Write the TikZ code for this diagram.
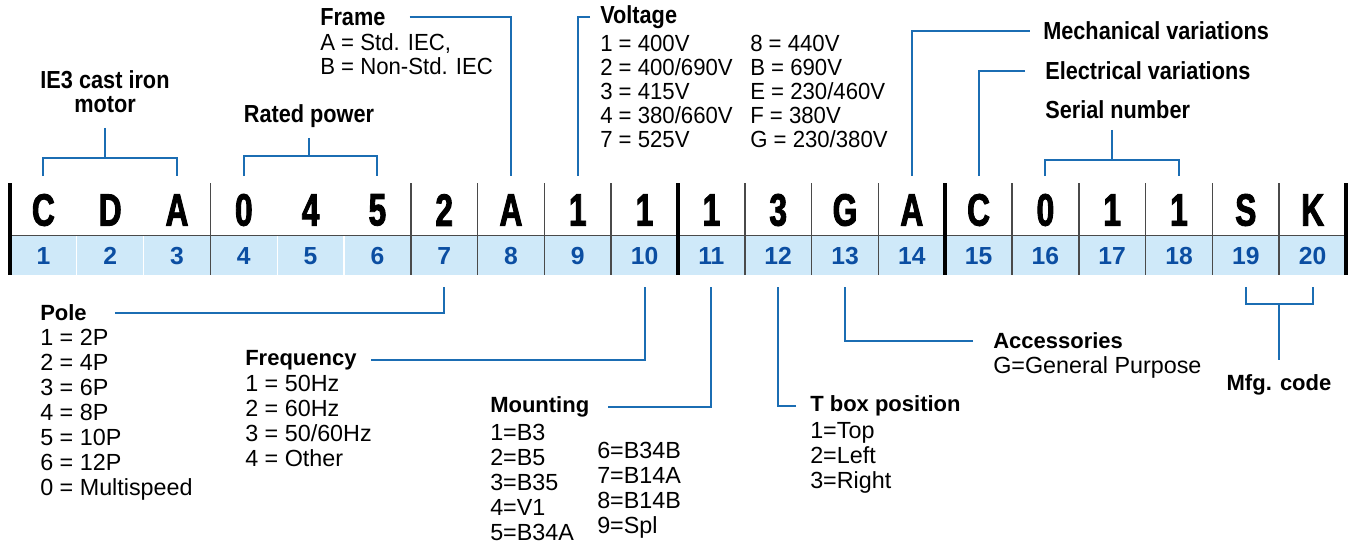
\documentclass[tikz,border=0pt]{standalone}
\usepackage{fontspec}
\setmainfont{Liberation Sans}
\newfontfamily\condfont[FakeStretch=0.7, FakeBold=2]{Liberation Sans}
\newfontfamily\narrowfont[FakeStretch=0.88]{Liberation Sans}
\newfontfamily\bodyfont[FakeStretch=0.95]{Liberation Sans}
\usepackage{xcolor}
\usetikzlibrary{positioning}
\definecolor{linkblue}{HTML}{1B6DB3}
\definecolor{cellblue}{HTML}{CFE9F9}
\definecolor{numblue}{HTML}{0B4EA2}
\definecolor{divgray}{HTML}{4A4A4A}

\begin{document}
\begin{tikzpicture}[x=0.75pt, y=-0.75pt,
  letter/.style={font=\condfont\bfseries\fontsize{34}{34}\selectfont, inner sep=0pt},
  num/.style={font=\bfseries\fontsize{18.5}{18}\selectfont, text=numblue, inner sep=0pt},
  head/.style={font=\bfseries\fontsize{16.5}{18}\selectfont, inner sep=0pt, anchor=west},
  tophead/.style={font=\narrowfont\bfseries\fontsize{18.5}{18}\selectfont, inner sep=0pt},
  body/.style={font=\fontsize{17.5}{18.75}\selectfont, inner sep=0pt, anchor=north west, align=left},
  topbody/.style={font=\bodyfont\fontsize{17.5}{17.9}\selectfont, inner sep=0pt, anchor=north west, align=left},
  conn/.style={draw=linkblue, line width=1.5pt},
  thinbar/.style={draw=divgray, line width=1.2pt},
  thickbar/.style={draw=black, line width=3pt}
]
\useasboundingbox (0,0) rectangle (1354,547);

\fill[cellblue] (10,236) rectangle (1346,275);
\draw[divgray, line width=1pt] (10,235.5) -- (1346,235.5);
\foreach \k in {1,2,4,5}
  \draw[white, line width=0.8pt] ({10+66.8*\k},236) -- ({10+66.8*\k},275);
\foreach \k in {3,6,7,8,9,11,12,13,15,16,17,18,19}
  \draw[thinbar] ({10+66.8*\k},183) -- ({10+66.8*\k},275);
\foreach \k in {0,10,14,20}
  \draw[thickbar] ({10+66.8*\k},183) -- ({10+66.8*\k},275);

\foreach \ch [count=\i] in {C,D,A,0,4,5,2,A,1,1,1,3,G,A,C,0,1,1,S,K} {
  \node[letter] (l\i) at ({10+66.8*(\i-0.5)},210) {\ch};
  \node[num] (n\i) at ({10+66.8*(\i-0.5)},256) {\i};
  \coordinate (t\i) at ({10+66.8*(\i-0.5)},176);
  \coordinate (b\i) at ({10+66.8*(\i-0.5)},287);
}

\node[tophead, align=center] (ie3) at (105,92) {IE3 cast iron\\motor};
\node[tophead] (rated) at (309,116) {Rated power};
\node[tophead, anchor=west] (frame) at (320,17) {Frame};
\node[topbody] (framebody) at (320,33) {A = Std. IEC,\\B = Non-Std. IEC};
\node[tophead, anchor=west] (volt) at (600,17) {Voltage};
\node[topbody] (voltA) at (600,35) {1 = 400V\\2 = 400/690V\\3 = 415V\\4 = 380/660V\\7 = 525V};
\node[topbody] (voltB) at (750,35) {8 = 440V\\B = 690V\\E = 230/460V\\F = 380V\\G = 230/380V};
\node[tophead, anchor=west] (mech) at (1043,31) {Mechanical variations};
\node[tophead, anchor=west] (elec) at (1045,71) {Electrical variations};
\node[tophead, anchor=west] (serial) at (1045,110) {Serial number};

\node[head] (pole) at (40,313) {Pole};
\node[body] (polebody) at (40,329) {1 = 2P\\2 = 4P\\3 = 6P\\4 = 8P\\5 = 10P\\6 = 12P\\0 = Multispeed};
\node[head] (freq) at (245,360) {Frequency};
\node[body] (freqbody) at (245,375) {1 = 50Hz\\2 = 60Hz\\3 = 50/60Hz\\4 = Other};
\node[head] (mount) at (490,407) {Mounting};
\node[body] (mountA) at (490,424) {1=B3\\2=B5\\3=B35\\4=V1\\5=B34A};
\node[body] (mountB) at (597,442) {6=B34B\\7=B14A\\8=B14B\\9=Spl};
\node[head] (tbox) at (810,406) {T box position};
\node[body] (tboxbody) at (810,422) {1=Top\\2=Left\\3=Right};
\node[head] (acc) at (993,341) {Accessories};
\node[body] (accbody) at (993,356) {G=General Purpose};
\node[head, anchor=center] (mfg) at (1279,385) {Mfg. code};

\coordinate (ie3bar) at (105,158);
\coordinate (ratedbar) at (309,156);
\coordinate (serialbar) at (1112,160);
\coordinate (mfgbar) at (1279,304);

\draw[conn, shorten <=11pt] (ie3.south) -- (ie3bar);
\draw[conn] (t1) -- (t1 |- ie3bar) -- (t3 |- ie3bar) -- (t3);
\draw[conn, shorten <=7.5pt] (rated.south) -- (ratedbar);
\draw[conn] (t4) -- (t4 |- ratedbar) -- (t6 |- ratedbar) -- (t6);
\draw[conn, shorten <=18pt] (frame.east) -| (t8);
\draw[conn, shorten <=7.5pt] (volt.west) -| (t9);
\draw[conn, shorten <=10pt] (mech.west) -| (t14);
\draw[conn, shorten <=15pt] (elec.west) -| (t15);
\draw[conn, shorten <=8pt] (serialbar |- serial.south) -- (serialbar);
\draw[conn] (t16) -- (t16 |- serialbar) -- (t18 |- serialbar) -- (t18);

\draw[conn, shorten <=21pt] (pole.east) -| (b7);
\draw[conn, shorten <=11pt] (freq.east) -| (b10);
\draw[conn, shorten <=14pt] (mount.east) -| (b11);
\draw[conn, shorten <=10.5pt] (tbox.west) -| (b12);
\draw[conn, shorten <=15pt] (acc.west) -| (b13);
\draw[conn] (b19) -- (b19 |- mfgbar) -- (b20 |- mfgbar) -- (b20);
\draw[conn, shorten >=11pt] (mfgbar) -- (mfgbar |- mfg.north);
\end{tikzpicture}
\end{document}
